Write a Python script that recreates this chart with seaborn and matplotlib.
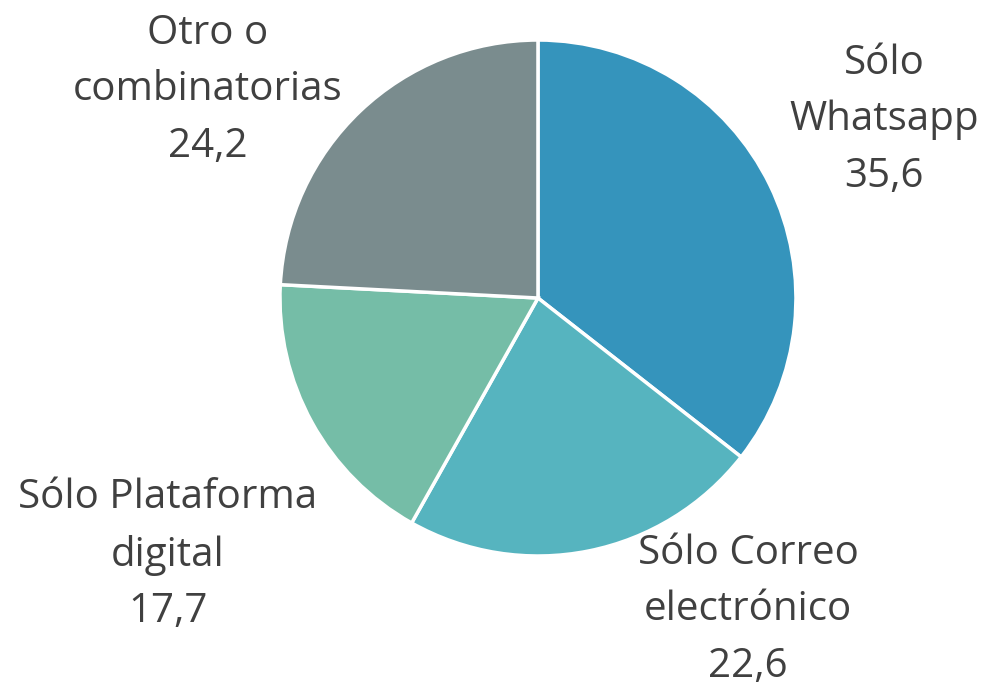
import matplotlib
matplotlib.use("Agg")
import matplotlib.pyplot as plt
import seaborn as sns
import numpy as np

# -----------------------------
# DATA
# -----------------------------
categorias = ["Sólo\nWhatsapp", "Sólo Correo\nelectrónico", "Sólo Plataforma\ndigital", "Otro o\ncombinatorias"]
valores = [35.6, 22.6, 17.7, 24.2]
etiquetas = ["35,6", "22,6", "17,7", "24,2"]
colores = ["#3594BC", "#56B4BF", "#75BDA7", "#7A8C8E"]

sns.set_theme(style="white")
plt.rcParams['font.family'] = ['Open Sans', 'DejaVu Sans']

fig = plt.figure(figsize=(9.89, 6.92), dpi=100)
ax = fig.add_axes([0.2831, 0.1965, 0.5217, 0.7457])

wedges, _ = ax.pie(valores, colors=colores, startangle=90, counterclock=False,
                   wedgeprops=dict(edgecolor="white", linewidth=2.5))
ax.set_xlim(-1, 1)
ax.set_ylim(-1, 1)
ax.set_aspect("equal")
ax.axis("off")

# label positions (relative to pie radius)
pos = [(1.341, 0.690), (0.814, -1.209), (-1.434, -0.996), (-1.279, 0.806)]
for (x, y), cat, lab in zip(pos, categorias, etiquetas):
    ax.text(x, y, cat + "\n" + lab, ha="center", va="center", fontsize=29,
            color="#404040", linespacing=1.52, clip_on=False)

fig.savefig("out.png", dpi=100)
